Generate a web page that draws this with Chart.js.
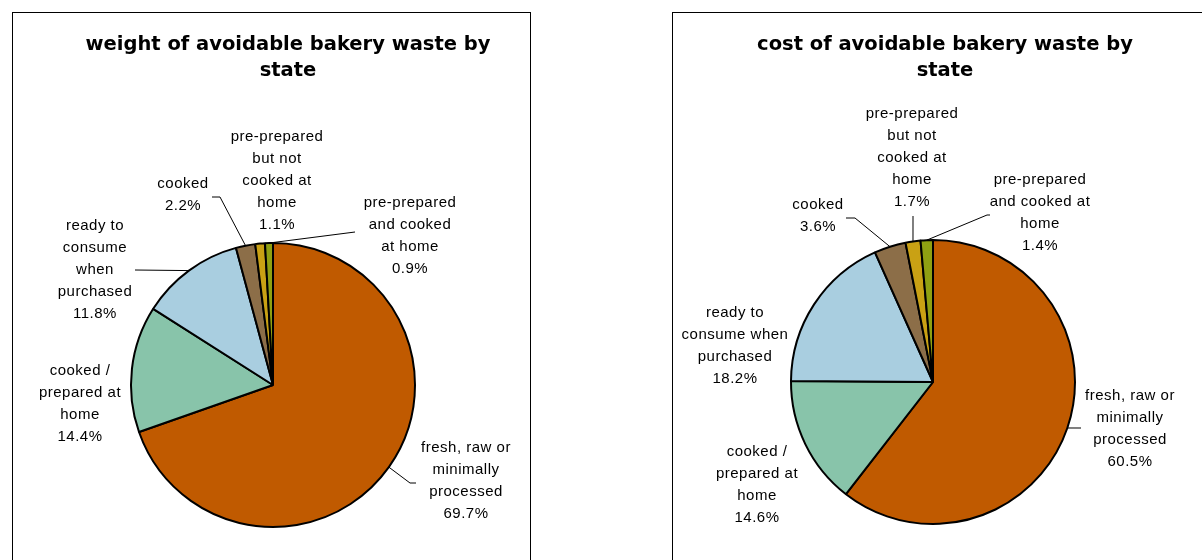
<!DOCTYPE html>
<html>
<head>
<meta charset="utf-8">
<script src="https://cdn.jsdelivr.net/npm/chart.js@4.4.1/dist/chart.umd.min.js"></script>
<style>
    html, body { margin: 0; padding: 0; background: #fff; }
    body { width: 1202px; height: 560px; overflow: hidden; position: relative; }
    .panel { position: absolute; top: 12px; border: 1px solid #000; box-sizing: border-box; background: #fff; overflow: hidden; }
    #leftPanel { left: 12px; width: 519px; height: 560px; }
    #rightPanel { left: 672px; width: 540px; height: 560px; }
    .panel canvas { position: absolute; left: 0; top: 0; }
</style>
</head>
<body>
<div class="panel" id="leftPanel"><canvas id="weightChart" width="516" height="547"></canvas></div>
<div class="panel" id="rightPanel"><canvas id="costChart" width="529" height="547"></canvas></div>
<script>
// categories, clockwise from 12 o'clock
const categories = [
    'fresh, raw or minimally processed',
    'cooked / prepared at home',
    'ready to consume when purchased',
    'cooked',
    'pre-prepared but not cooked at home',
    'pre-prepared and cooked at home'
];
const weightShare = [69.7, 14.4, 11.8, 2.2, 1.1, 0.9];
const costShare = [60.5, 14.6, 18.2, 3.6, 1.7, 1.4];

// how each chart wraps the category names
const weightLines = [
    ['fresh, raw or', 'minimally', 'processed'],
    ['cooked /', 'prepared at', 'home'],
    ['ready to', 'consume', 'when', 'purchased'],
    ['cooked'],
    ['pre-prepared', 'but not', 'cooked at', 'home'],
    ['pre-prepared', 'and cooked', 'at home']
];
const costLines = [
    ['fresh, raw or', 'minimally', 'processed'],
    ['cooked /', 'prepared at', 'home'],
    ['ready to', 'consume when', 'purchased'],
    ['cooked'],
    ['pre-prepared', 'but not', 'cooked at', 'home'],
    ['pre-prepared', 'and cooked at', 'home']
];

const sliceColors = ['#C05A00', '#88C4AA', '#A9CEE0', '#8C6E48', '#C9A114', '#8FA012'];

// draws title, data labels and leader lines (offsets are px from pie centre)
const pieLabels = {
    id: 'pieLabels',
    afterDraw(chart, args, opts) {
        const ctx = chart.ctx;
        const arcs = chart.getDatasetMeta(0).data;
        const values = chart.data.datasets[0].data;
        const cx = arcs[0].x, cy = arcs[0].y, r = arcs[0].outerRadius;
        ctx.save();
        ctx.fillStyle = '#000';
        ctx.textAlign = 'center';
        ctx.textBaseline = 'middle';

        ctx.font = 'bold 19.5px "DejaVu Sans"';
        opts.title.forEach((t, i) => ctx.fillText(t, cx + opts.titleDx, opts.titleY + i * 26));

        ctx.strokeStyle = '#000';
        ctx.lineWidth = 1;
        opts.leaders.forEach((pts, i) => {
            if (!pts) return;
            const a = arcs[i];
            const mid = (a.startAngle + a.endAngle) / 2;
            ctx.beginPath();
            ctx.moveTo(cx + Math.cos(mid) * r, cy + Math.sin(mid) * r);
            pts.forEach(p => ctx.lineTo(cx + p[0], cy + p[1]));
            ctx.stroke();
        });

        ctx.font = '15px "Liberation Sans"';
        ctx.letterSpacing = '0.5px';
        const lh = 22;
        opts.labelPos.forEach((p, i) => {
            const lines = opts.names[i].concat([values[i].toFixed(1) + '%']);
            const top = cy + p[1] - (lines.length - 1) * lh / 2;
            lines.forEach((ln, j) => ctx.fillText(ln, cx + p[0], top + j * lh));
        });
        ctx.restore();
    }
};

function makePie(id, values, padding, labelOpts) {
    return new Chart(document.getElementById(id), {
        type: 'pie',
        data: {
            labels: categories,
            datasets: [{
                data: values,
                backgroundColor: sliceColors,
                borderColor: '#000',
                borderWidth: 2
            }]
        },
        options: {
            responsive: false,
            animation: false,
            events: [],
            layout: { padding: padding },
            plugins: {
                legend: { display: false },
                tooltip: { enabled: false },
                pieLabels: labelOpts
            }
        },
        plugins: [pieLabels]
    });
}

makePie('weightChart', weightShare,
    { left: 117, top: 229, right: 113, bottom: 32 },
    {
        title: ['weight of avoidable bakery waste by', 'state'],
        titleDx: 15, titleY: 32,
        names: weightLines,
        labelPos: [[193, 96], [-193, 19], [-178, -115], [-90, -190], [4, -204], [137, -149]],
        leaders: [
            [[137, 98], [143, 98]],
            null,
            [[-138, -115]],
            [[-53, -188], [-61, -188]],
            null,
            [[82, -153]]
        ]
    });

makePie('costChart', costShare,
    { left: 117, top: 226, right: 126, bottom: 35 },
    {
        title: ['cost of avoidable bakery waste by', 'state'],
        titleDx: 12, titleY: 32,
        names: costLines,
        labelPos: [[197, 47], [-176, 103], [-198, -36], [-115, -166], [-21, -224], [107, -169]],
        leaders: [
            [[148, 46]],
            null,
            null,
            [[-78, -164], [-87, -164]],
            [[-20, -166]],
            [[54, -167], [57, -167]]
        ]
    });
</script>
</body>
</html>
